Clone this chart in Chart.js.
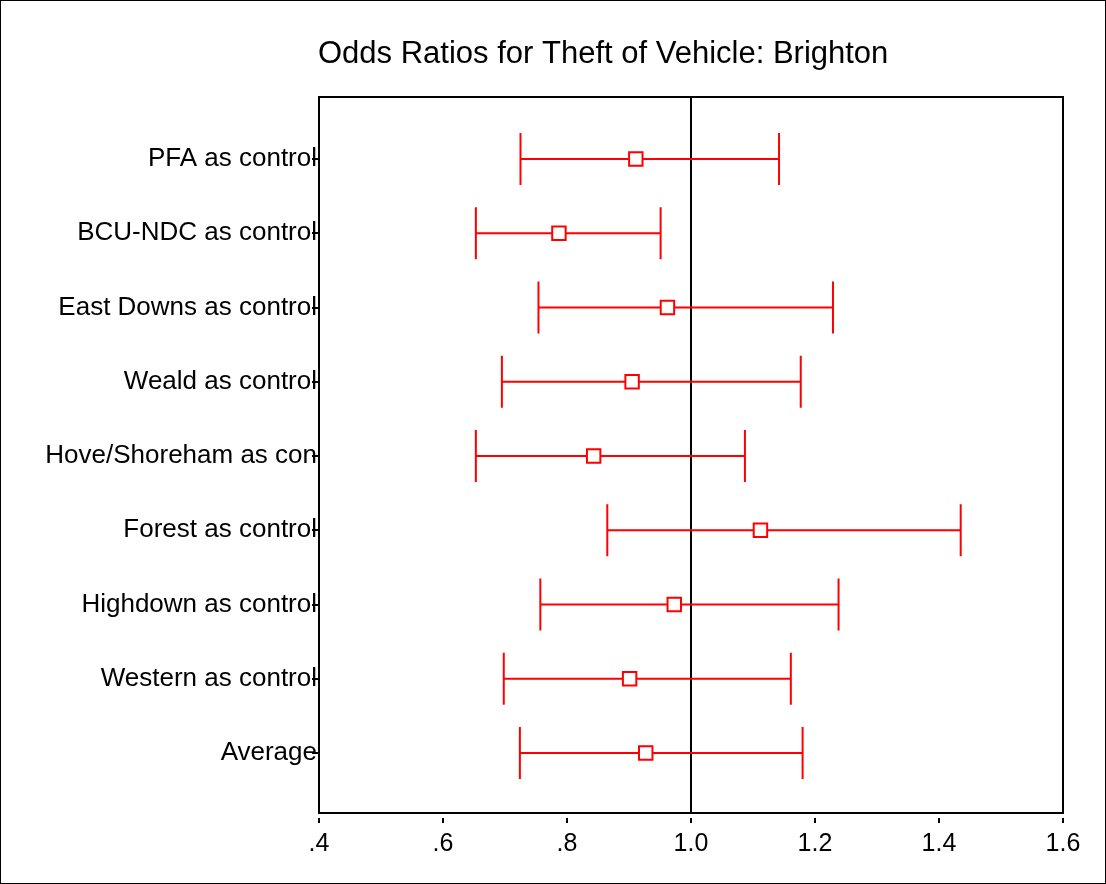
<!DOCTYPE html>
<html>
<head>
<meta charset="utf-8">
<script src="https://cdn.jsdelivr.net/npm/chart.js@4/dist/chart.umd.min.js"></script>
<style>
  html, body { margin: 0; padding: 0; background: #fff; }
  #wrap { width: 1106px; height: 884px; }
</style>
</head>
<body>
<div id="wrap"><canvas id="orChart" width="1106" height="884"></canvas></div>
<script>
// categories, top to bottom
const categories = [
    'PFA as control',
    'BCU-NDC as control',
    'East Downs as control',
    'Weald as control',
    'Hove/Shoreham as con',
    'Forest as control',
    'Highdown as control',
    'Western as control',
    'Average'
];
const oddsRatio = [0.911, 0.787, 0.962, 0.905, 0.843, 1.112, 0.973, 0.901, 0.927];
const lowerCI   = [0.725, 0.653, 0.754, 0.695, 0.653, 0.865, 0.757, 0.698, 0.724];
const upperCI   = [1.142, 0.951, 1.229, 1.177, 1.087, 1.435, 1.238, 1.161, 1.180];
const xTickLabels = ['.4', '.6', '.8', '1.0', '1.2', '1.4', '1.6'];
const chartTitle = 'Odds Ratios for Theft of Vehicle: Brighton';

const FONT = '"Liberation Sans", Arial, sans-serif';
const RED = '#ff0000';

// whisker lines with end caps, drawn under the squares
const errorBars = {
    id: 'errorBars',
    beforeDatasetsDraw(chart) {
        const { ctx, scales: { x, y } } = chart;
        ctx.save();
        ctx.strokeStyle = RED;
        ctx.lineWidth = 2;
        categories.forEach((c, i) => {
            const py = y.getPixelForValue(i);
            const x1 = x.getPixelForValue(lowerCI[i]);
            const x2 = x.getPixelForValue(upperCI[i]);
            ctx.beginPath();
            ctx.moveTo(x1, py); ctx.lineTo(x2, py);
            ctx.moveTo(x1, py - 26); ctx.lineTo(x1, py + 26);
            ctx.moveTo(x2, py - 26); ctx.lineTo(x2, py + 26);
            ctx.stroke();
        });
        ctx.restore();
    }
};

// frame round the plot, x tick marks with a gap, outer border and title
const decorations = {
    id: 'decorations',
    afterDraw(chart) {
        const { ctx, chartArea: a, scales: { x } } = chart;
        ctx.save();
        ctx.strokeStyle = '#000';
        ctx.lineWidth = 2;
        ctx.strokeRect(a.left, a.top, a.right - a.left, a.bottom - a.top);
        ctx.beginPath();
        x.ticks.forEach(t => {
            const px = x.getPixelForValue(t.value);
            ctx.moveTo(px, a.bottom + 5);
            ctx.lineTo(px, a.bottom + 10);
        });
        ctx.stroke();
        ctx.lineWidth = 1;
        ctx.strokeRect(0.5, 0.5, chart.width - 1, chart.height - 1);
        ctx.fillStyle = '#000';
        ctx.font = '31px ' + FONT;
        ctx.textAlign = 'left';
        ctx.textBaseline = 'alphabetic';
        ctx.fillText(chartTitle, 318, 63);
        ctx.restore();
    }
};

const ctx = document.getElementById('orChart').getContext('2d');
new Chart(ctx, {
    type: 'scatter',
    data: {
        datasets: [{
            data: oddsRatio.map((v, i) => ({ x: v, y: i })),
            pointStyle: 'rect',
            pointRadius: 9.5,
            pointHoverRadius: 9.5,
            pointBorderWidth: 2,
            pointBorderColor: RED,
            pointBackgroundColor: '#fff'
        }]
    },
    options: {
        responsive: false,
        animation: false,
        events: [],
        layout: { padding: { top: 97, right: 43, left: 0, bottom: 0 } },
        plugins: { legend: { display: false }, tooltip: { enabled: false }, title: { display: false } },
        scales: {
            x: {
                type: 'linear',
                min: 0.4,
                max: 1.6,
                afterFit: s => { s.height = 71; },
                afterBuildTicks: s => { s.ticks = xTickLabels.map((l, i) => ({ value: 0.4 + i * 0.2 })); },
                ticks: {
                    color: '#000',
                    font: { family: FONT, size: 25 },
                    padding: 16,
                    maxRotation: 0,
                    callback: (v, i) => xTickLabels[i]
                },
                grid: {
                    drawTicks: false,
                    lineWidth: 2,
                    color: c => (c.tick && Math.abs(c.tick.value - 1) < 1e-6) ? '#000' : 'rgba(0,0,0,0)'
                },
                border: { display: true, color: '#000', width: 2 }
            },
            y: {
                type: 'linear',
                reverse: true,
                min: -0.835,
                max: 8.808,
                afterFit: s => { s.width = 319; },
                afterBuildTicks: s => { s.ticks = categories.map((c, i) => ({ value: i })); },
                ticks: {
                    color: '#000',
                    font: { family: FONT, size: 26 },
                    padding: -5,
                    callback: (v) => categories[v]
                },
                grid: {
                    drawOnChartArea: false,
                    drawTicks: true,
                    tickLength: 7,
                    lineWidth: 2,
                    color: '#000'
                },
                border: { display: true, color: '#000', width: 2 }
            }
        }
    },
    plugins: [errorBars, decorations]
});
</script>
</body>
</html>
